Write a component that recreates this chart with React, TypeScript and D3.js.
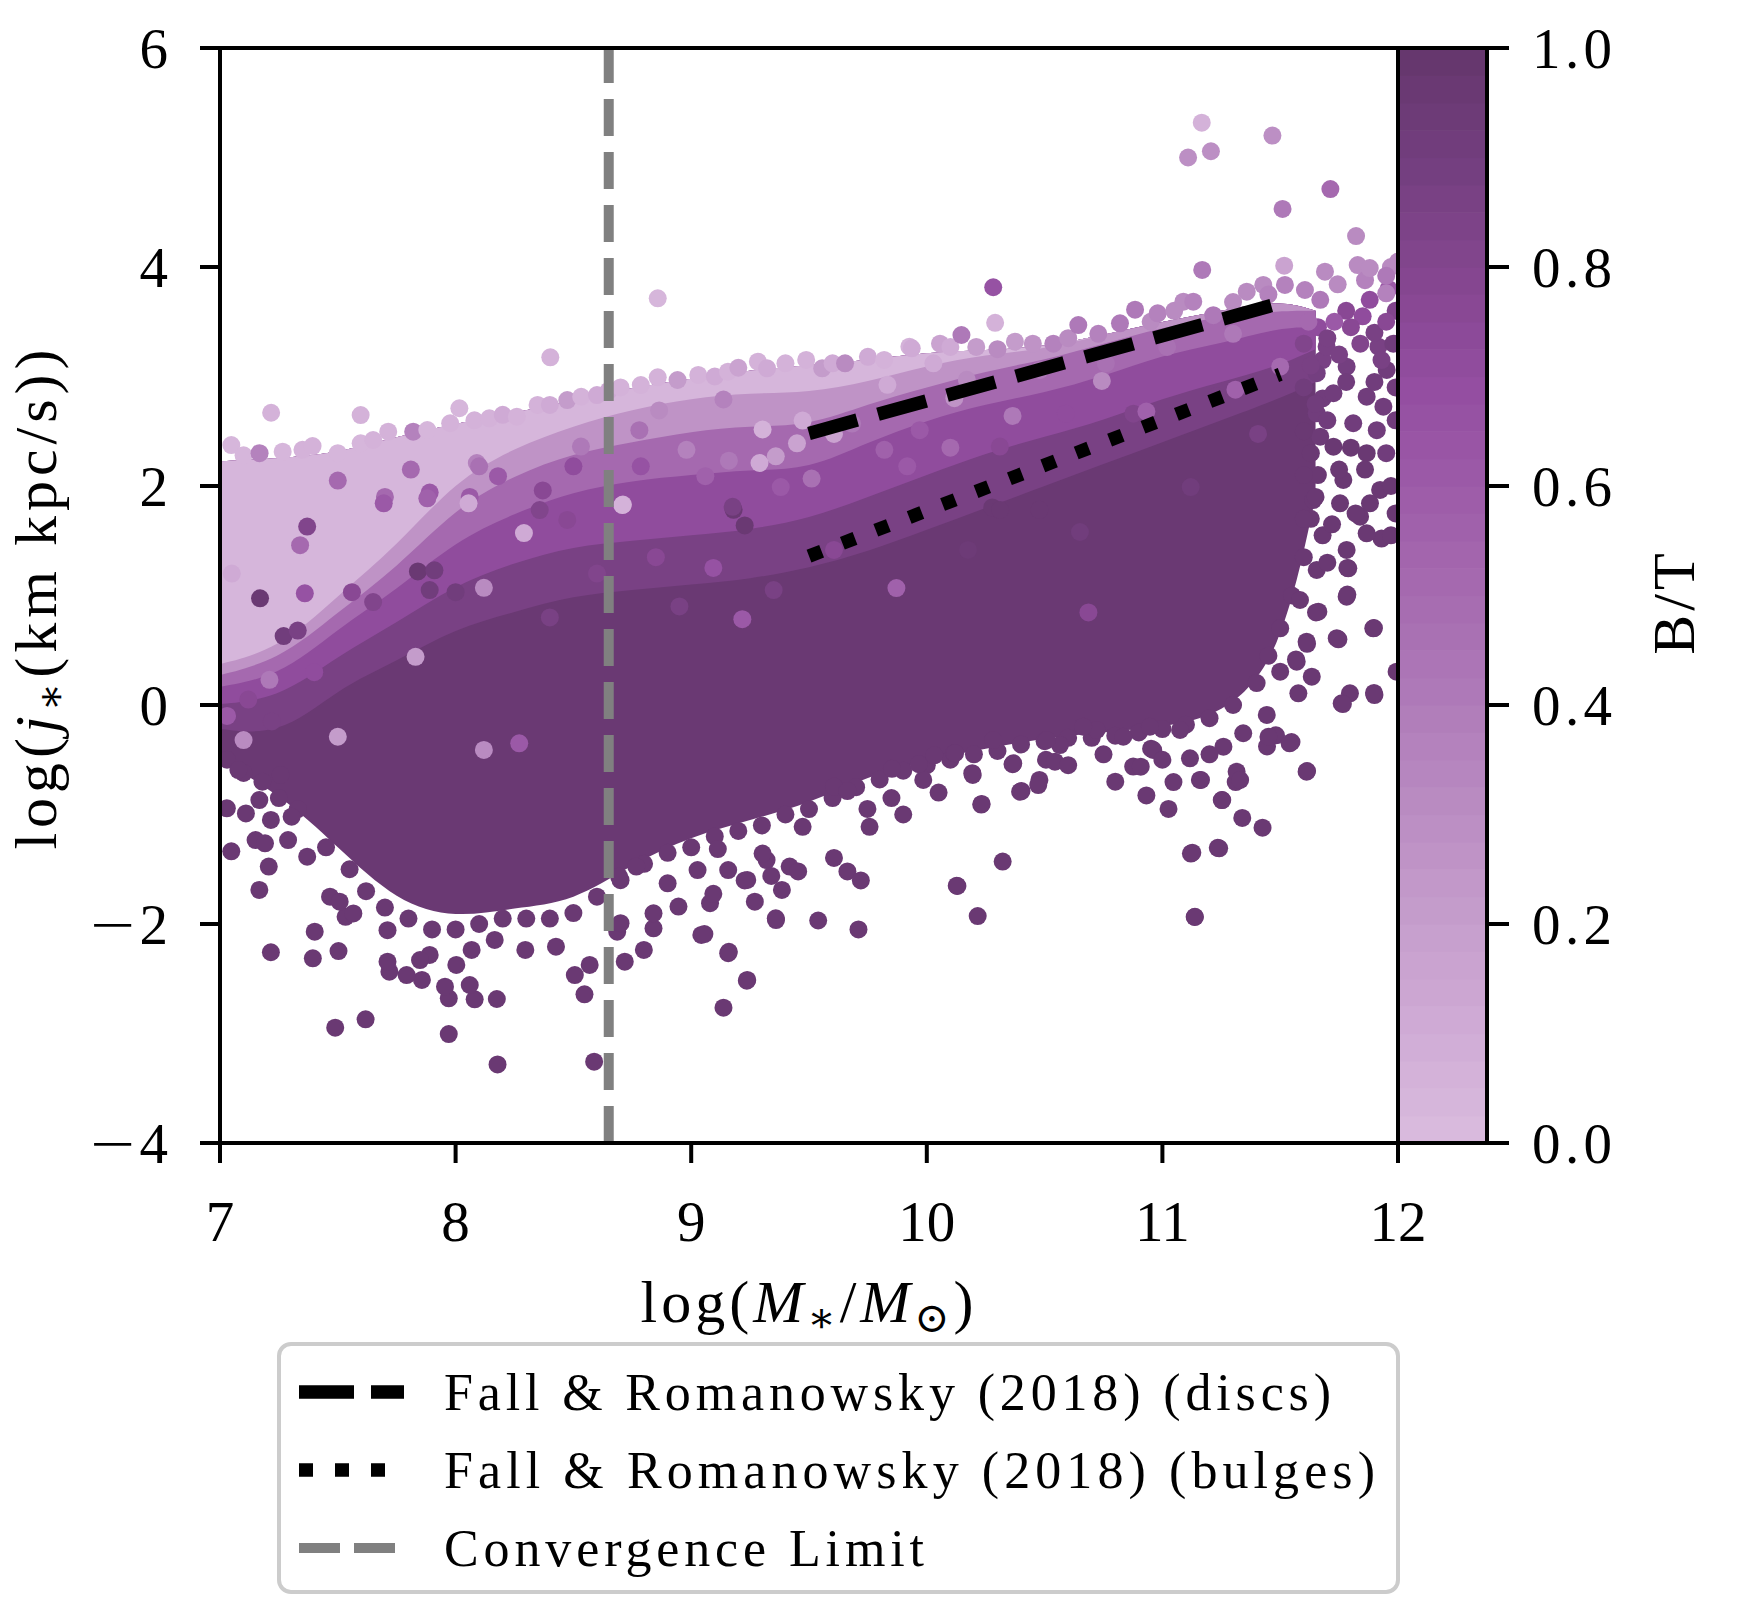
import * as d3 from 'd3'

// axes frame in pixels
const W = 1750
const H = 1600
const AX = { left: 220, right: 1398, top: 48, bottom: 1143 }
const CB = { left: 1398, right: 1487 }
const FONT = '"Liberation Serif", "DejaVu Serif", serif'
const DOT_R = 9

const X_TICKS = [7, 8, 9, 10, 11, 12]
const Y_TICKS = [-4, -2, 0, 2, 4, 6]
const CB_TICKS = [0, 0.2, 0.4, 0.6, 0.8, 1.0]

// B/T colour map
const CMAP_POS = [0, 0.1, 0.2, 0.3, 0.4, 0.5, 0.6, 0.7, 0.8, 0.9, 1.0]
const CMAP_HEX = ['#d9badd', '#cfaad5', '#c59dcc', '#ba8cc2', '#af7bb9', '#a66bb0', '#9d5ba8', '#934da0', '#84468f', '#743f80', '#66376e']
const CMAP_LEVELS = 40

// dense part of the cloud: envelope and colour-band floors per log M* column
const GRID_X = [6.95, 7.25, 7.5, 7.75, 8.0, 8.25, 8.5, 8.75, 9.0, 9.25, 9.5, 9.75, 10.0, 10.25, 10.5, 10.75, 11.0, 11.25, 11.5, 11.65]
const CLOUD_TOP = [2.22, 2.25, 2.3, 2.45, 2.57, 2.67, 2.78, 2.9, 2.98, 3.06, 3.1, 3.15, 3.22, 3.24, 3.27, 3.38, 3.5, 3.6, 3.7, 3.6]
const CLOUD_BOTTOM = [-0.45, -0.8, -1.3, -1.8, -1.95, -1.85, -1.8, -1.45, -1.2, -1.05, -0.9, -0.65, -0.5, -0.4, -0.3, -0.25, -0.2, -0.1, 0.4, 1.9]
const FLOOR_87 = [-0.2, -0.3, 0.15, 0.4, 0.7, 0.85, 1.0, 1.05, 1.1, 1.15, 1.25, 1.4, 1.6, 1.8, 2.0, 2.2, 2.4, 2.6, 2.8, 2.95]
const FLOOR_72 = [0.0, 0.05, 0.45, 0.75, 1.1, 1.3, 1.45, 1.5, 1.55, 1.6, 1.7, 1.9, 2.1, 2.3, 2.45, 2.6, 2.8, 2.95, 3.1, 3.25]
const FLOOR_50 = [0.15, 0.25, 0.7, 1.05, 1.5, 1.75, 1.95, 2.05, 2.1, 2.15, 2.15, 2.4, 2.6, 2.75, 2.85, 3.0, 3.2, 3.3, 3.45, 3.45]
const FLOOR_25 = [0.25, 0.4, 0.85, 1.25, 1.8, 2.1, 2.3, 2.4, 2.5, 2.55, 2.55, 2.75, 2.9, 3.05, 3.15, 3.3, 3.45, 3.55, 3.6, 3.6]
const FLOOR_04 = [0.35, 0.5, 1.0, 1.45, 2.05, 2.35, 2.55, 2.7, 2.8, 2.85, 2.85, 2.95, 3.1, 3.2, 3.25, 3.4, 3.6, 3.7, 3.8, 3.8]
const BAND_FLOORS = [CLOUD_BOTTOM, FLOOR_87, FLOOR_72, FLOOR_50, FLOOR_25, FLOOR_04]
const BAND_BT = [0.97, 0.87, 0.72, 0.5, 0.25, 0.04]

// individual galaxies [log M*, log j*, B/T]
const TOP_OUTLIERS = [
  [7.217, 2.669, 0.05], [7.597, 2.648, 0.05], [8.402, 3.175, 0.05], [8.858, 3.714, 0.04],
  [10.147, 3.379, 0.4], [10.29, 3.49, 0.06], [10.282, 3.815, 0.65], [11.169, 3.973, 0.42],
  [11.517, 4.012, 0.15], [11.167, 5.318, 0.05], [11.467, 5.2, 0.28], [11.109, 5.0, 0.28],
  [11.206, 5.057, 0.28], [11.713, 4.712, 0.5], [11.51, 4.53, 0.4], [11.822, 4.283, 0.3],
  [11.69, 3.957, 0.3], [11.829, 4.018, 0.3], [11.744, 3.842, 0.3], [11.86, 3.88, 0.35],
  [12.0, 4.05, 0.3], [11.88, 3.99, 0.3], [11.95, 3.92, 0.4],
]

const TOP_EDGE = [
  [7.048, 2.374, 0.04], [7.1, 2.28, 0.04], [7.168, 2.3, 0.35], [7.266, 2.313, 0.04],
  [7.35, 2.33, 0.05], [7.393, 2.365, 0.05], [7.5, 2.3, 0.04], [7.597, 2.39, 0.04],
  [7.65, 2.42, 0.05], [7.714, 2.496, 0.05], [7.82, 2.496, 0.35], [7.88, 2.511, 0.04],
  [7.977, 2.573, 0.05], [8.016, 2.71, 0.04], [8.08, 2.6, 0.05], [8.143, 2.618, 0.05],
  [8.2, 2.65, 0.1], [8.26, 2.633, 0.05], [8.348, 2.74, 0.05], [8.4, 2.74, 0.1],
  [8.474, 2.785, 0.2], [8.533, 2.815, 0.05], [8.6, 2.83, 0.1], [8.65, 2.87, 0.1],
  [8.7, 2.9, 0.05], [8.786, 2.922, 0.05], [8.858, 2.993, 0.05], [8.942, 2.968, 0.2],
  [9.03, 3.014, 0.05], [9.1, 3.0, 0.1], [9.156, 3.044, 0.05], [9.2, 3.08, 0.15],
  [9.283, 3.135, 0.05], [9.322, 3.075, 0.1], [9.4, 3.12, 0.05], [9.488, 3.151, 0.05],
  [9.556, 3.075, 0.2], [9.6, 3.12, 0.1], [9.653, 3.12, 0.3], [9.75, 3.18, 0.1],
  [9.819, 3.151, 0.05], [9.926, 3.272, 0.05], [9.936, 3.257, 0.1], [10.056, 3.3, 0.15],
  [10.1, 3.27, 0.1], [10.21, 3.27, 0.2], [10.3, 3.25, 0.3], [10.374, 3.318, 0.2],
  [10.45, 3.3, 0.25], [10.537, 3.3, 0.35], [10.6, 3.35, 0.3], [10.643, 3.47, 0.4],
  [10.728, 3.39, 0.35], [10.82, 3.486, 0.4], [10.884, 3.61, 0.4], [10.95, 3.5, 0.3],
  [10.98, 3.577, 0.35], [11.05, 3.6, 0.3], [11.089, 3.683, 0.3], [11.131, 3.683, 0.35],
  [11.216, 3.56, 0.4], [11.3, 3.68, 0.3], [11.358, 3.775, 0.3], [11.428, 3.836, 0.3],
  [11.45, 3.75, 0.35], [11.52, 3.836, 0.35], [11.605, 3.79, 0.35], [11.67, 3.7, 0.4],
  [11.97, 4.0, 0.3], [11.95, 3.76, 0.35],
]

const INTERIOR_MIX = [
  [7.17, 0.974, 0.95], [7.84, 1.22, 0.95], [7.91, 1.23, 0.9], [7.89, 1.05, 0.9],
  [8.0, 1.03, 0.9], [7.56, 1.03, 0.75], [7.36, 1.02, 0.65], [7.27, 0.63, 0.9],
  [7.33, 0.68, 0.85], [7.65, 0.94, 0.8], [8.12, 1.07, 0.3], [8.27, -0.35, 0.6],
  [8.12, -0.41, 0.3], [7.5, -0.29, 0.2], [7.83, 0.44, 0.2], [8.71, 1.83, 0.1],
  [8.29, 1.57, 0.1], [7.21, 0.23, 0.4], [7.1, -0.32, 0.3], [7.5, 2.05, 0.5],
  [7.37, 1.63, 0.8], [7.34, 1.46, 0.5], [7.7, 1.9, 0.5], [7.81, 2.15, 0.5],
  [7.89, 1.94, 0.6], [8.06, 1.9, 0.6], [8.09, 2.21, 0.35], [8.37, 1.96, 0.75],
  [8.5, 2.18, 0.7], [8.78, 2.51, 0.45], [9.871, 1.068, 0.55], [9.217, 0.784, 0.6],
  [9.094, 1.252, 0.65], [10.686, 0.845, 0.75], [10.278, 1.804, 0.95], [10.478, 1.783, 0.95],
  [9.18, 1.783, 0.95], [9.227, 1.64, 0.95], [9.473, 2.598, 0.1], [9.303, 2.516, 0.05],
  [9.606, 2.476, 0.15], [9.16, 2.231, 0.4], [9.359, 2.271, 0.2], [9.511, 2.068, 0.45],
  [9.833, 2.924, 0.1], [10.117, 2.802, 0.25], [10.311, 1.781, 0.95], [7.05, 1.2, 0.1],
  [7.12, 0.05, 0.75], [7.03, -0.1, 0.6], [7.22, -0.15, 0.85], [7.4, 0.3, 0.7],
  [8.708, 1.826, 0.05], [8.055, 1.842, 0.1], [7.695, 1.842, 0.6], [7.88, 1.888, 0.55],
  [8.1, 2.18, 0.45], [8.18, 2.09, 0.6], [8.357, 1.78, 0.8], [8.474, 1.69, 0.75],
  [8.532, 2.36, 0.4], [8.786, 2.18, 0.65], [8.98, 2.33, 0.35], [9.06, 2.09, 0.55],
  [9.176, 1.81, 0.85], [9.29, 2.21, 0.1], [9.38, 1.99, 0.6], [9.449, 2.39, 0.15],
  [9.137, 2.79, 0.35], [8.864, 2.69, 0.3], [9.683, 2.57, 0.4], [9.82, 2.33, 0.55],
  [9.917, 2.18, 0.6], [10.028, 3.12, 0.1], [10.17, 2.97, 0.3], [9.97, 2.51, 0.6],
  [10.48, 3.06, 0.4], [10.76, 3.12, 0.45], [11.02, 3.27, 0.45], [11.3, 3.39, 0.4],
  [10.877, 2.66, 0.8], [10.59, 2.66, 0.7], [10.31, 2.36, 0.75], [11.23, 2.82, 0.85],
  [9.606, 1.416, 0.75], [10.1, 2.35, 0.5], [10.364, 2.64, 0.4], [10.743, 2.96, 0.3],
  [10.932, 2.68, 0.55], [11.31, 2.88, 0.55], [11.12, 1.99, 0.9], [10.65, 1.58, 0.9],
  [10.175, 1.416, 0.93], [11.406, 2.476, 0.85], [11.5, 3.09, 0.5], [8.6, 1.2, 0.8],
  [8.85, 1.35, 0.75], [8.4, 0.8, 0.85], [8.95, 0.9, 0.85], [9.35, 1.05, 0.85],
]

const BOTTOM_EDGE = [
  [7.03, -0.5, 0.97], [7.1, -0.62, 0.97], [7.18, -0.7, 0.97], [7.25, -0.85, 0.97],
  [7.33, -0.95, 0.97], [7.45, -1.3, 0.97], [7.55, -1.5, 0.97], [7.62, -1.7, 0.97],
  [7.7, -1.85, 0.97], [7.8, -1.95, 0.97], [7.9, -2.05, 0.97], [8.0, -2.05, 0.97],
  [8.1, -2.0, 0.97], [8.2, -1.95, 0.97], [8.3, -1.95, 0.97], [8.4, -1.95, 0.97],
  [8.5, -1.9, 0.97], [8.6, -1.75, 0.97], [8.7, -1.6, 0.97], [8.8, -1.45, 0.97],
  [8.9, -1.35, 0.97], [9.0, -1.3, 0.97], [9.1, -1.2, 0.97], [9.2, -1.15, 0.97],
  [9.3, -1.1, 0.97], [9.4, -1.0, 0.97], [9.5, -0.95, 0.97], [9.6, -0.85, 0.97],
  [9.7, -0.75, 0.97], [9.8, -0.68, 0.97], [9.9, -0.6, 0.97], [10.0, -0.55, 0.97],
  [10.1, -0.5, 0.97], [10.2, -0.45, 0.97], [10.3, -0.42, 0.97], [10.4, -0.36, 0.97],
  [10.5, -0.33, 0.97], [10.6, -0.3, 0.97], [10.7, -0.3, 0.97], [10.8, -0.28, 0.97],
  [10.9, -0.25, 0.97], [11.0, -0.22, 0.97], [11.1, -0.18, 0.97], [11.2, -0.12, 0.97],
  [11.3, 0.0, 0.97], [11.4, 0.2, 0.97], [11.45, 0.45, 0.97], [11.5, 0.7, 0.97],
  [11.55, 1.0, 0.97], [11.6, 1.35, 0.97], [11.63, 1.7, 0.97], [11.66, 2.1, 0.95],
  [11.67, 2.45, 0.93], [11.68, 2.8, 0.9], [11.68, 3.15, 0.85], [11.66, 3.45, 0.7],
]

const BOTTOM_SPARSE = [
  [7.048, -1.336, 0.97], [7.167, -1.689, 0.97], [7.216, -2.258, 0.97], [7.394, -2.313, 0.97],
  [7.402, -2.07, 0.97], [7.503, -2.247, 0.97], [7.489, -2.947, 0.97], [7.618, -2.87, 0.97],
  [7.971, -3.005, 0.97], [8.178, -3.282, 0.97], [8.588, -3.257, 0.97], [8.547, -2.642, 0.97],
  [8.506, -2.466, 0.97], [8.569, -2.374, 0.97], [8.175, -2.685, 0.97], [8.081, -2.688, 0.97],
  [8.06, -2.557, 0.97], [7.971, -2.679, 0.97], [7.955, -2.572, 0.97], [8.003, -2.374, 0.97],
  [7.857, -2.511, 0.97], [7.89, -2.283, 0.97], [7.792, -2.466, 0.97], [7.719, -2.435, 0.97],
  [7.711, -2.344, 0.97], [7.849, -2.329, 0.97], [8.068, -2.237, 0.97], [8.166, -2.146, 0.97],
  [8.296, -2.237, 0.97], [8.426, -2.207, 0.97], [8.718, -2.344, 0.97], [8.686, -2.07, 0.97],
  [8.799, -2.237, 0.97], [8.84, -2.039, 0.97], [9.043, -2.1, 0.97], [9.157, -2.267, 0.97],
  [9.238, -2.511, 0.97], [9.137, -2.764, 0.97], [9.36, -1.964, 0.97], [9.08, -1.81, 0.97],
  [9.27, -1.796, 0.97], [8.9, -1.628, 0.97], [8.84, -1.902, 0.97], [8.7, -1.993, 0.97],
  [8.694, -1.567, 0.97], [8.767, -1.476, 0.97], [8.946, -1.841, 0.97], [9.385, -1.689, 0.97],
  [9.32, -1.416, 0.97], [9.238, -1.598, 0.97], [9.157, -1.507, 0.97], [9.027, -1.507, 0.97],
  [9.418, -1.476, 0.97], [7.533, -1.934, 0.97], [7.566, -1.904, 0.97], [7.711, -2.056, 0.97],
  [7.467, -1.75, 0.97], [7.508, -1.796, 0.97], [7.37, -1.385, 0.97], [7.289, -1.233, 0.97],
  [7.151, -1.233, 0.97], [7.216, -1.05, 0.97], [7.257, -0.639, 0.97], [7.11, -0.99, 0.97],
  [7.029, -0.944, 0.97], [7.167, -0.868, 0.97], [7.078, -0.594, 0.97], [7.304, -1.02, 0.97],
  [7.191, -1.263, 0.97], [7.207, -1.476, 0.97],
  [10.231, -0.909, 0.97], [10.322, -1.43, 0.97], [10.127, -1.65, 0.97], [10.216, -1.928, 0.97],
  [11.121, -1.357, 0.97], [11.235, -1.304, 0.97], [11.137, -1.936, 0.97], [11.425, -1.12, 0.97],
  [11.339, -1.031, 0.97], [11.254, -0.868, 0.97], [11.026, -0.949, 0.97], [10.932, -0.826, 0.97],
  [11.159, -0.684, 0.97], [11.548, -0.338, 0.97], [11.614, -0.603, 0.97], [11.482, -0.277, 0.97],
  [10.876, -0.562, 0.97], [10.952, -0.399, 0.97], [11.047, -0.704, 0.97], [11.311, -0.704, 0.97],
  [11.444, -0.378, 0.97], [10.478, -0.684, 0.97], [10.402, -0.786, 0.97], [10.506, -0.5, 0.97],
  [10.364, -0.541, 0.97], [10.193, -0.623, 0.97], [9.985, -0.684, 0.97], [10.032, -0.46, 0.97],
  [10.117, -0.44, 0.97], [9.852, -0.583, 0.97], [9.966, -0.541, 0.97], [9.748, -0.949, 0.97],
  [9.757, -1.112, 0.97], [9.606, -0.745, 0.97], [9.663, -0.786, 0.97], [9.473, -1.112, 0.97],
  [9.454, -1.52, 0.97], [9.606, -1.397, 0.97], [9.663, -1.52, 0.97], [9.72, -1.602, 0.97],
  [9.539, -1.968, 0.97], [9.71, -2.05, 0.97], [9.359, -1.948, 0.97], [9.236, -2.518, 0.97],
  [9.16, -2.254, 0.97], [9.303, -1.357, 0.97], [9.34, -1.561, 0.97], [9.227, -1.602, 0.97],
  [9.113, -1.316, 0.97], [9.094, -1.724, 0.97], [9.056, -2.092, 0.97],
  [10.13, -1.653, 0.97], [10.233, -0.904, 0.97], [10.195, -0.639, 0.97], [10.396, -0.792, 0.97],
  [10.473, -0.731, 0.97], [10.544, -0.518, 0.97], [10.367, -0.533, 0.97], [10.12, -0.44, 0.97],
  [10.282, -0.32, 0.97], [10.565, -0.366, 0.97], [10.721, -0.228, 0.97], [10.664, -0.198, 0.97],
  [10.509, -0.32, 0.97], [10.834, -0.29, 0.97], [10.947, -0.198, 0.97], [11.075, -0.228, 0.97],
  [11.117, -0.487, 0.97], [11.164, -0.685, 0.97], [11.259, -0.381, 0.97], [11.343, -0.258, 0.97],
  [10.908, -0.563, 0.97], [10.961, -0.411, 0.97], [11.241, -1.309, 0.97], [11.127, -1.349, 0.97],
  [11.138, -1.934, 0.97], [11.315, -0.609, 0.97], [11.33, -0.685, 0.97], [11.252, -0.868, 0.97],
  [11.612, -0.609, 0.97], [11.54, -0.35, 0.97], [11.45, -0.29, 0.97], [11.443, -0.091, 0.97],
  [9.85, -0.85, 0.97], [9.9, -1.0, 0.97], [10.05, -0.8, 0.97], [10.6, -0.55, 0.97],
  [10.75, -0.45, 0.97], [10.8, -0.7, 0.97], [11.0, -0.5, 0.97], [11.2, -0.45, 0.97],
]

const RIGHT_SPARSE = [
  [11.697, 3.272, 0.85], [11.782, 3.09, 0.88], [11.917, 3.272, 0.85], [11.952, 3.06, 0.9],
  [11.655, 3.03, 0.88], [11.726, 2.847, 0.9], [11.867, 2.816, 0.9], [11.938, 2.724, 0.92],
  [11.655, 2.664, 0.92], [11.81, 2.573, 0.92], [11.91, 2.51, 0.92], [11.726, 2.359, 0.95],
  [11.867, 2.3, 0.95], [11.768, 2.055, 0.95], [11.924, 1.964, 0.95], [11.881, 1.842, 0.95],
  [11.754, 1.842, 0.95], [11.839, 1.72, 0.95], [11.64, 1.872, 0.95], [11.782, 1.416, 0.97],
  [11.789, 1.248, 0.97], [11.782, 0.989, 0.97], [11.895, 0.7, 0.97], [11.74, 0.61, 0.97],
  [11.994, 0.304, 0.97], [11.9, 0.091, 0.97], [11.796, 0.107, 0.97], [11.761, 0.015, 0.97],
  [11.662, 0.852, 0.97], [11.612, 0.578, 0.97], [11.57, 0.396, 0.97], [11.634, 0.259, 0.97],
  [11.577, 0.107, 0.97], [11.5, 0.304, 0.97], [11.655, 1.233, 0.97], [11.584, 0.959, 0.97],
  [11.93, 1.52, 0.97], [11.867, 1.568, 0.97], [11.747, 0.6, 0.97], [11.898, 0.703, 0.97],
  [11.766, 0.009, 0.97], [11.898, 0.11, 0.97], [11.785, 1.008, 0.97], [11.785, 1.252, 0.97],
  [11.652, 0.845, 0.97], [11.614, 0.559, 0.97], [11.567, 0.416, 0.97],
  [11.62, 3.5, 0.5], [11.6, 3.3, 0.8], [11.63, 3.1, 0.85], [11.6, 2.9, 0.9],
  [11.65, 2.75, 0.9], [11.6, 2.5, 0.95], [11.63, 2.3, 0.95], [11.6, 2.1, 0.95],
  [11.65, 1.9, 0.95], [11.6, 1.7, 0.95], [11.68, 1.55, 0.95], [11.7, 1.3, 0.95],
  [11.7, 3.35, 0.85], [11.75, 3.2, 0.85], [11.78, 2.95, 0.9], [11.7, 2.6, 0.9],
  [11.8, 2.35, 0.95], [11.75, 2.15, 0.95], [11.82, 1.75, 0.95], [11.9, 3.4, 0.85],
  [11.93, 3.15, 0.85], [11.95, 2.3, 0.9], [11.99, 3.6, 0.8], [11.98, 3.3, 0.9],
  [11.99, 2.9, 0.9], [11.97, 2.0, 0.95], [11.85, 3.55, 0.7], [11.78, 3.6, 0.75],
  [11.96, 3.8, 0.6], [11.88, 3.7, 0.7], [11.84, 3.3, 0.8], [11.8, 3.45, 0.75],
  [11.9, 2.95, 0.9], [11.95, 3.5, 0.75], [11.73, 3.5, 0.6], [11.86, 2.15, 0.95],
  [11.99, 2.6, 0.9], [11.99, 1.75, 0.95], [11.97, 1.55, 0.97], [11.72, 1.65, 0.95],
]

// Fall & Romanowsky (2018) relations and convergence limit
const DISC_FIT = [[9.5, 2.48], [11.5, 3.67]]
const BULGE_FIT = [[9.5, 1.36], [11.5, 3.02]]
const CONVERGENCE_LIMIT = 8.65

const LEGEND_LABELS = [
  'Fall & Romanowsky (2018) (discs)',
  'Fall & Romanowsky (2018) (bulges)',
  'Convergence Limit',
]
const LEGEND_WIDTHS = [887, 931, 480]

const x = d3.scaleLinear().domain([7, 12]).range([AX.left, AX.right])
const y = d3.scaleLinear().domain([-4, 6]).range([AX.bottom, AX.top])
const cb = d3.scaleLinear().domain([0, 1]).range([AX.bottom, AX.top])
const cmapRaw = d3.scaleLinear<string>().domain(CMAP_POS).range(CMAP_HEX).interpolate(d3.interpolateRgb)
const cmap = (bt: number) => cmapRaw(Math.min(CMAP_LEVELS - 1, Math.floor(bt * CMAP_LEVELS)) / (CMAP_LEVELS - 1))

function bandPath(floor: number[]) {
  const area = d3.area<number>()
    .x((_, i) => x(GRID_X[i]))
    .y0((f, i) => y(Math.min(f, CLOUD_TOP[i])))
    .y1((_, i) => y(CLOUD_TOP[i]))
    .curve(d3.curveBasis)
  return area(floor) ?? ''
}

function Dots({ pts }: { pts: number[][] }) {
  return (
    <g>
      {pts.map((p, i) => (
        <circle key={i} cx={x(p[0])} cy={y(p[1])} r={DOT_R} fill={cmap(p[2])} />
      ))}
    </g>
  )
}

// tick label with a wide TeX-like minus sign
function YTickLabel({ v }: { v: number }) {
  const ty = y(v)
  return (
    <g>
      <text x={168} y={ty} dy="0.35em" textAnchor="end" fontSize={57}>{Math.abs(v)}</text>
      {v < 0 && (
        <text transform={`translate(135,${ty}) scale(1.4,1)`} dy="0.35em" textAnchor="end" fontSize={57}>{'\u2212'}</text>
      )}
    </g>
  )
}

export default function App() {
  const line = d3.line<number[]>().x(d => x(d[0])).y(d => y(d[1]))
  const cbSteps = d3.range(CMAP_LEVELS)
  const stepH = (AX.bottom - AX.top) / CMAP_LEVELS
  const legendY = [1392, 1470, 1548]

  return (
    <div style={{ position: 'absolute', left: 0, top: 0 }}>
      <svg width={W} height={H} style={{ display: 'block', background: '#fff' }} fontFamily={FONT}>
        <defs>
          <clipPath id="axclip">
            <rect x={AX.left} y={AX.top} width={AX.right - AX.left} height={AX.bottom - AX.top} />
          </clipPath>
        </defs>

        <g clipPath="url(#axclip)">
          {BAND_FLOORS.map((f, i) => (
            <path key={i} d={bandPath(f)} fill={cmap(BAND_BT[i])} />
          ))}
          <Dots pts={INTERIOR_MIX} />
          <Dots pts={BOTTOM_EDGE} />
          <Dots pts={BOTTOM_SPARSE} />
          <Dots pts={RIGHT_SPARSE} />
          <Dots pts={TOP_EDGE} />
          <Dots pts={TOP_OUTLIERS} />

          <line
            x1={x(CONVERGENCE_LIMIT)} x2={x(CONVERGENCE_LIMIT)} y1={AX.bottom} y2={AX.top}
            stroke="#808080" strokeWidth={10} strokeDasharray="37 16"
          />
          <path d={line(DISC_FIT) ?? ''} stroke="#000" strokeWidth={13.5} strokeDasharray="50 21.6" fill="none" />
          <path d={line(BULGE_FIT) ?? ''} stroke="#000" strokeWidth={13.5} strokeDasharray="13.5 22.3" fill="none" />
        </g>

        {/* axes frame */}
        <rect x={AX.left} y={AX.top} width={AX.right - AX.left} height={AX.bottom - AX.top} fill="none" stroke="#000" strokeWidth={4} />
        {X_TICKS.map(t => (
          <g key={t}>
            <line x1={x(t)} x2={x(t)} y1={AX.bottom} y2={AX.bottom + 20} stroke="#000" strokeWidth={4} />
            <text x={x(t)} y={1241} textAnchor="middle" fontSize={57}>{t}</text>
          </g>
        ))}
        {Y_TICKS.map(t => (
          <g key={t}>
            <line x1={AX.left - 20} x2={AX.left} y1={y(t)} y2={y(t)} stroke="#000" strokeWidth={4} />
            <YTickLabel v={t} />
          </g>
        ))}

        {/* colour bar */}
        {cbSteps.map(i => (
          <rect
            key={i} x={CB.left} width={CB.right - CB.left}
            y={AX.bottom - (i + 1) * stepH} height={stepH + 0.6}
            fill={cmapRaw(i / (CMAP_LEVELS - 1))}
          />
        ))}
        <rect x={CB.left} y={AX.top} width={CB.right - CB.left} height={AX.bottom - AX.top} fill="none" stroke="#000" strokeWidth={4} />
        {CB_TICKS.map(t => (
          <g key={t}>
            <line x1={CB.right} x2={CB.right + 22} y1={cb(t)} y2={cb(t)} stroke="#000" strokeWidth={4} />
            <text x={1532} y={cb(t)} dy="0.35em" fontSize={57} textLength={80} lengthAdjust="spacing">{t.toFixed(1)}</text>
          </g>
        ))}
        <text transform="translate(1694,602) rotate(-90)" textAnchor="middle" fontSize={60} letterSpacing={4}>B/T</text>

        {/* axis labels */}
        <text x={809} y={1322} textAnchor="middle" fontSize={60} letterSpacing={4}>
          log(<tspan fontStyle="italic">M</tspan>
          <tspan fontSize={42} dy={10}>∗</tspan>
          <tspan dy={-10}>/</tspan>
          <tspan fontStyle="italic">M</tspan>
          <tspan fontSize={42} dy={10}>⊙</tspan>
          <tspan dy={-10}>)</tspan>
        </text>
        <text transform="translate(56,597) rotate(-90)" textAnchor="middle" fontSize={60} letterSpacing={5}>
          log(<tspan fontStyle="italic">j</tspan>
          <tspan fontSize={42} dy={9}>∗</tspan>
          <tspan dy={-9}>(km kpc/s))</tspan>
        </text>

        {/* legend */}
        <rect x={279} y={1344} width={1119} height={248} rx={12} fill="#fff" fillOpacity={0.8} stroke="#cccccc" strokeWidth={4} />
        <line x1={299} x2={404} y1={legendY[0]} y2={legendY[0]} stroke="#000" strokeWidth={13.5} strokeDasharray="55 17" />
        <line x1={299} x2={404} y1={legendY[1]} y2={legendY[1]} stroke="#000" strokeWidth={13.5} strokeDasharray="14 22" />
        <line x1={299} x2={404} y1={legendY[2]} y2={legendY[2]} stroke="#808080" strokeWidth={10} strokeDasharray="41 14" />
        {LEGEND_LABELS.map((s, i) => (
          <text
            key={s} x={444} y={legendY[i]} dy="0.35em" fontSize={52}
            textLength={LEGEND_WIDTHS[i]} lengthAdjust="spacing"
          >{s}</text>
        ))}
      </svg>
    </div>
  )
}
